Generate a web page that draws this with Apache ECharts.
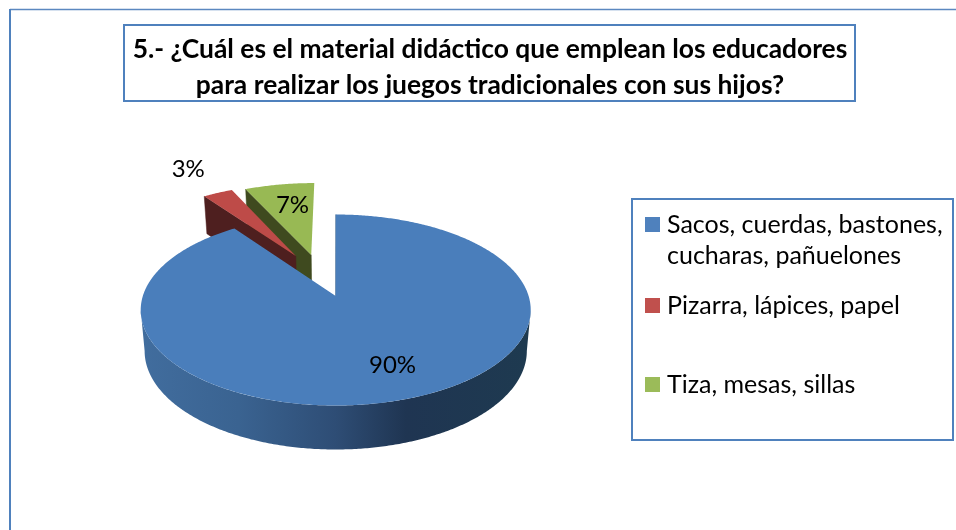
<!DOCTYPE html>
<html>
<head>
<meta charset="utf-8">
<style>
  html, body { margin: 0; padding: 0; background: #fff; }
  #chart { width: 956px; height: 530px; }
</style>
<script src="https://cdn.jsdelivr.net/npm/echarts@6/dist/echarts.min.js"></script>
</head>
<body>
<div id="chart"></div>
<script>
const categories = [
  'Sacos, cuerdas, bastones,\ncucharas, pañuelones',
  'Pizarra, lápices, papel',
  'Tiza, mesas, sillas'
]
const values = [90, 3, 7]
const titleLines = [
  '5.- ¿Cuál es el material didáctico que emplean los educadores',
  'para realizar los juegos tradicionales con sus hijos?'
]

const colors = ['#4a7ebb', '#be4b48', '#98b954']
const legendColors = ['#4f81bd', '#c0504d', '#9bbb59']
const faceColors = ['#3b6187', '#4e1f1f', '#3f4a1f']
// slice offset and label spot, in disc units (radius = 1)
const explode = [[-0.004, 0], [-0.225, 0.456], [-0.14, 0.469]]
const labelSpots = [[0.262, -0.666], [-0.96, 1.7], [-0.266, 1.135]]
const legendTops = [212, 293, 372]

const FONT = 'Lato, "Noto Sans", sans-serif'
const BORDER = '#4f81bd'

// pie ellipse on screen and tilt of the disc
const cx = 336.5
const cy = 310
const rx = 195
const ry = 95.5
const tilt = 0.1466
const total = values.reduce((a, b) => a + b, 0)

// disc point -> screen, with perspective so that the apex sits above the ellipse centre
function project(u, v) {
  const w = 1 + tilt * v
  return [
    cx + rx * u * Math.sqrt(1 - tilt * tilt) / w,
    cy - ry * (v + tilt) / w
  ]
}

// same point on the lower rim of the pie
function lower(p) {
  const t = (cy - p[1]) / ry
  return [cx + (p[0] - cx) * 0.98, p[1] + 41 - 3 * t]
}

function sliceAngles(index) {
  let before = 0
  for (let i = 0; i < index; i++) before += values[i]
  return [before / total * Math.PI * 2, (before + values[index]) / total * Math.PI * 2]
}

function renderSlice(params, api) {
  const index = params.seriesIndex
  const [start, end] = sliceAngles(index)
  const [ox, oy] = explode[index]
  const at = a => project(ox + Math.sin(a), oy + Math.cos(a))
  const apex = project(ox, oy)
  const z2 = (values.length - index) * 10

  const rim = []
  for (let a = start; a < end; a += 0.01) rim.push(at(a))
  rim.push(at(end))

  const children = []

  // outer wall, only the part turned to the viewer
  const wallFrom = Math.max(start, Math.acos(-tilt))
  const wallTo = Math.min(end, Math.PI * 2 - Math.acos(-tilt))
  if (wallFrom < wallTo) {
    const upper = []
    for (let a = wallFrom; a < wallTo; a += 0.01) upper.push(at(a))
    upper.push(at(wallTo))
    children.push({
      type: 'polygon',
      z2: z2,
      shape: { points: upper.concat(upper.map(lower).reverse()) },
      style: {
        fill: new echarts.graphic.LinearGradient(0, 0, 1, 0, [
          { offset: 0, color: '#416d9e' },
          { offset: 0.25, color: '#3a6391' },
          { offset: 0.5, color: '#2e4d75' },
          { offset: 0.68, color: '#1f3552' },
          { offset: 1, color: '#1e3a50' }
        ])
      }
    })
  }

  // cut face at the start of the slice
  const corner = at(start)
  children.push({
    type: 'polygon',
    z2: z2 + 1,
    shape: { points: [apex, corner, lower(corner), lower(apex)] },
    style: { fill: faceColors[index], stroke: faceColors[index], lineWidth: 0.5 }
  })

  // top face
  children.push({
    type: 'polygon',
    z2: z2 + 2,
    shape: { points: [apex].concat(rim) },
    style: { fill: colors[index] }
  })

  const labelPos = project(labelSpots[index][0], labelSpots[index][1])
  children.push({
    type: 'text',
    z2: 100,
    x: labelPos[0],
    y: labelPos[1],
    style: {
      text: api.value(0) + '%',
      fill: '#000',
      font: '24px ' + FONT,
      align: 'center',
      verticalAlign: 'middle'
    }
  })

  return { type: 'group', children: children }
}

const chart = echarts.init(document.getElementById('chart'), null, { renderer: 'canvas' })
chart.setOption({
  backgroundColor: '#ffffff',
  animation: false,
  color: legendColors,
  title: {
    text: titleLines.join('\n'),
    left: 485,
    top: 26,
    textAlign: 'center',
    textStyle: {
      fontFamily: FONT,
      fontWeight: 'bold',
      fontSize: 26.4,
      lineHeight: 36,
      color: '#000'
    }
  },
  legend: categories.map((name, i) => ({
    data: [name],
    left: 645,
    top: legendTops[i],
    padding: 0,
    icon: 'rect',
    itemWidth: 15,
    itemHeight: 15,
    itemGap: 0,
    selectedMode: false,
    formatter: n => n.split('\n')[0],
    textStyle: { fontFamily: FONT, fontSize: 25, color: '#000', padding: [0, 0, 0, 2] }
  })),
  graphic: [
    { type: 'line', shape: { x1: 10, y1: 9.5, x2: 956, y2: 9.5 }, style: { stroke: '#5b88c0', lineWidth: 1.5 } },
    { type: 'line', shape: { x1: 10, y1: 9, x2: 10, y2: 530 }, style: { stroke: BORDER, lineWidth: 2 } },
    { type: 'rect', z: -1, shape: { x: 124, y: 25, width: 731, height: 76 }, style: { fill: '#fff', stroke: BORDER, lineWidth: 2 } },
    { type: 'rect', z: -1, shape: { x: 632, y: 199, width: 321, height: 241 }, style: { fill: '#fff', stroke: BORDER, lineWidth: 2 } },
    {
      type: 'text',
      x: 667,
      y: 256,
      style: {
        text: categories[0].split('\n')[1],
        fill: '#000',
        font: '25px ' + FONT,
        verticalAlign: 'middle'
      }
    }
  ],
  series: categories.map((name, i) => ({
    name: name,
    type: 'custom',
    coordinateSystem: 'none',
    data: [[values[i]]],
    silent: true,
    renderItem: renderSlice
  }))
})
</script>
</body>
</html>
